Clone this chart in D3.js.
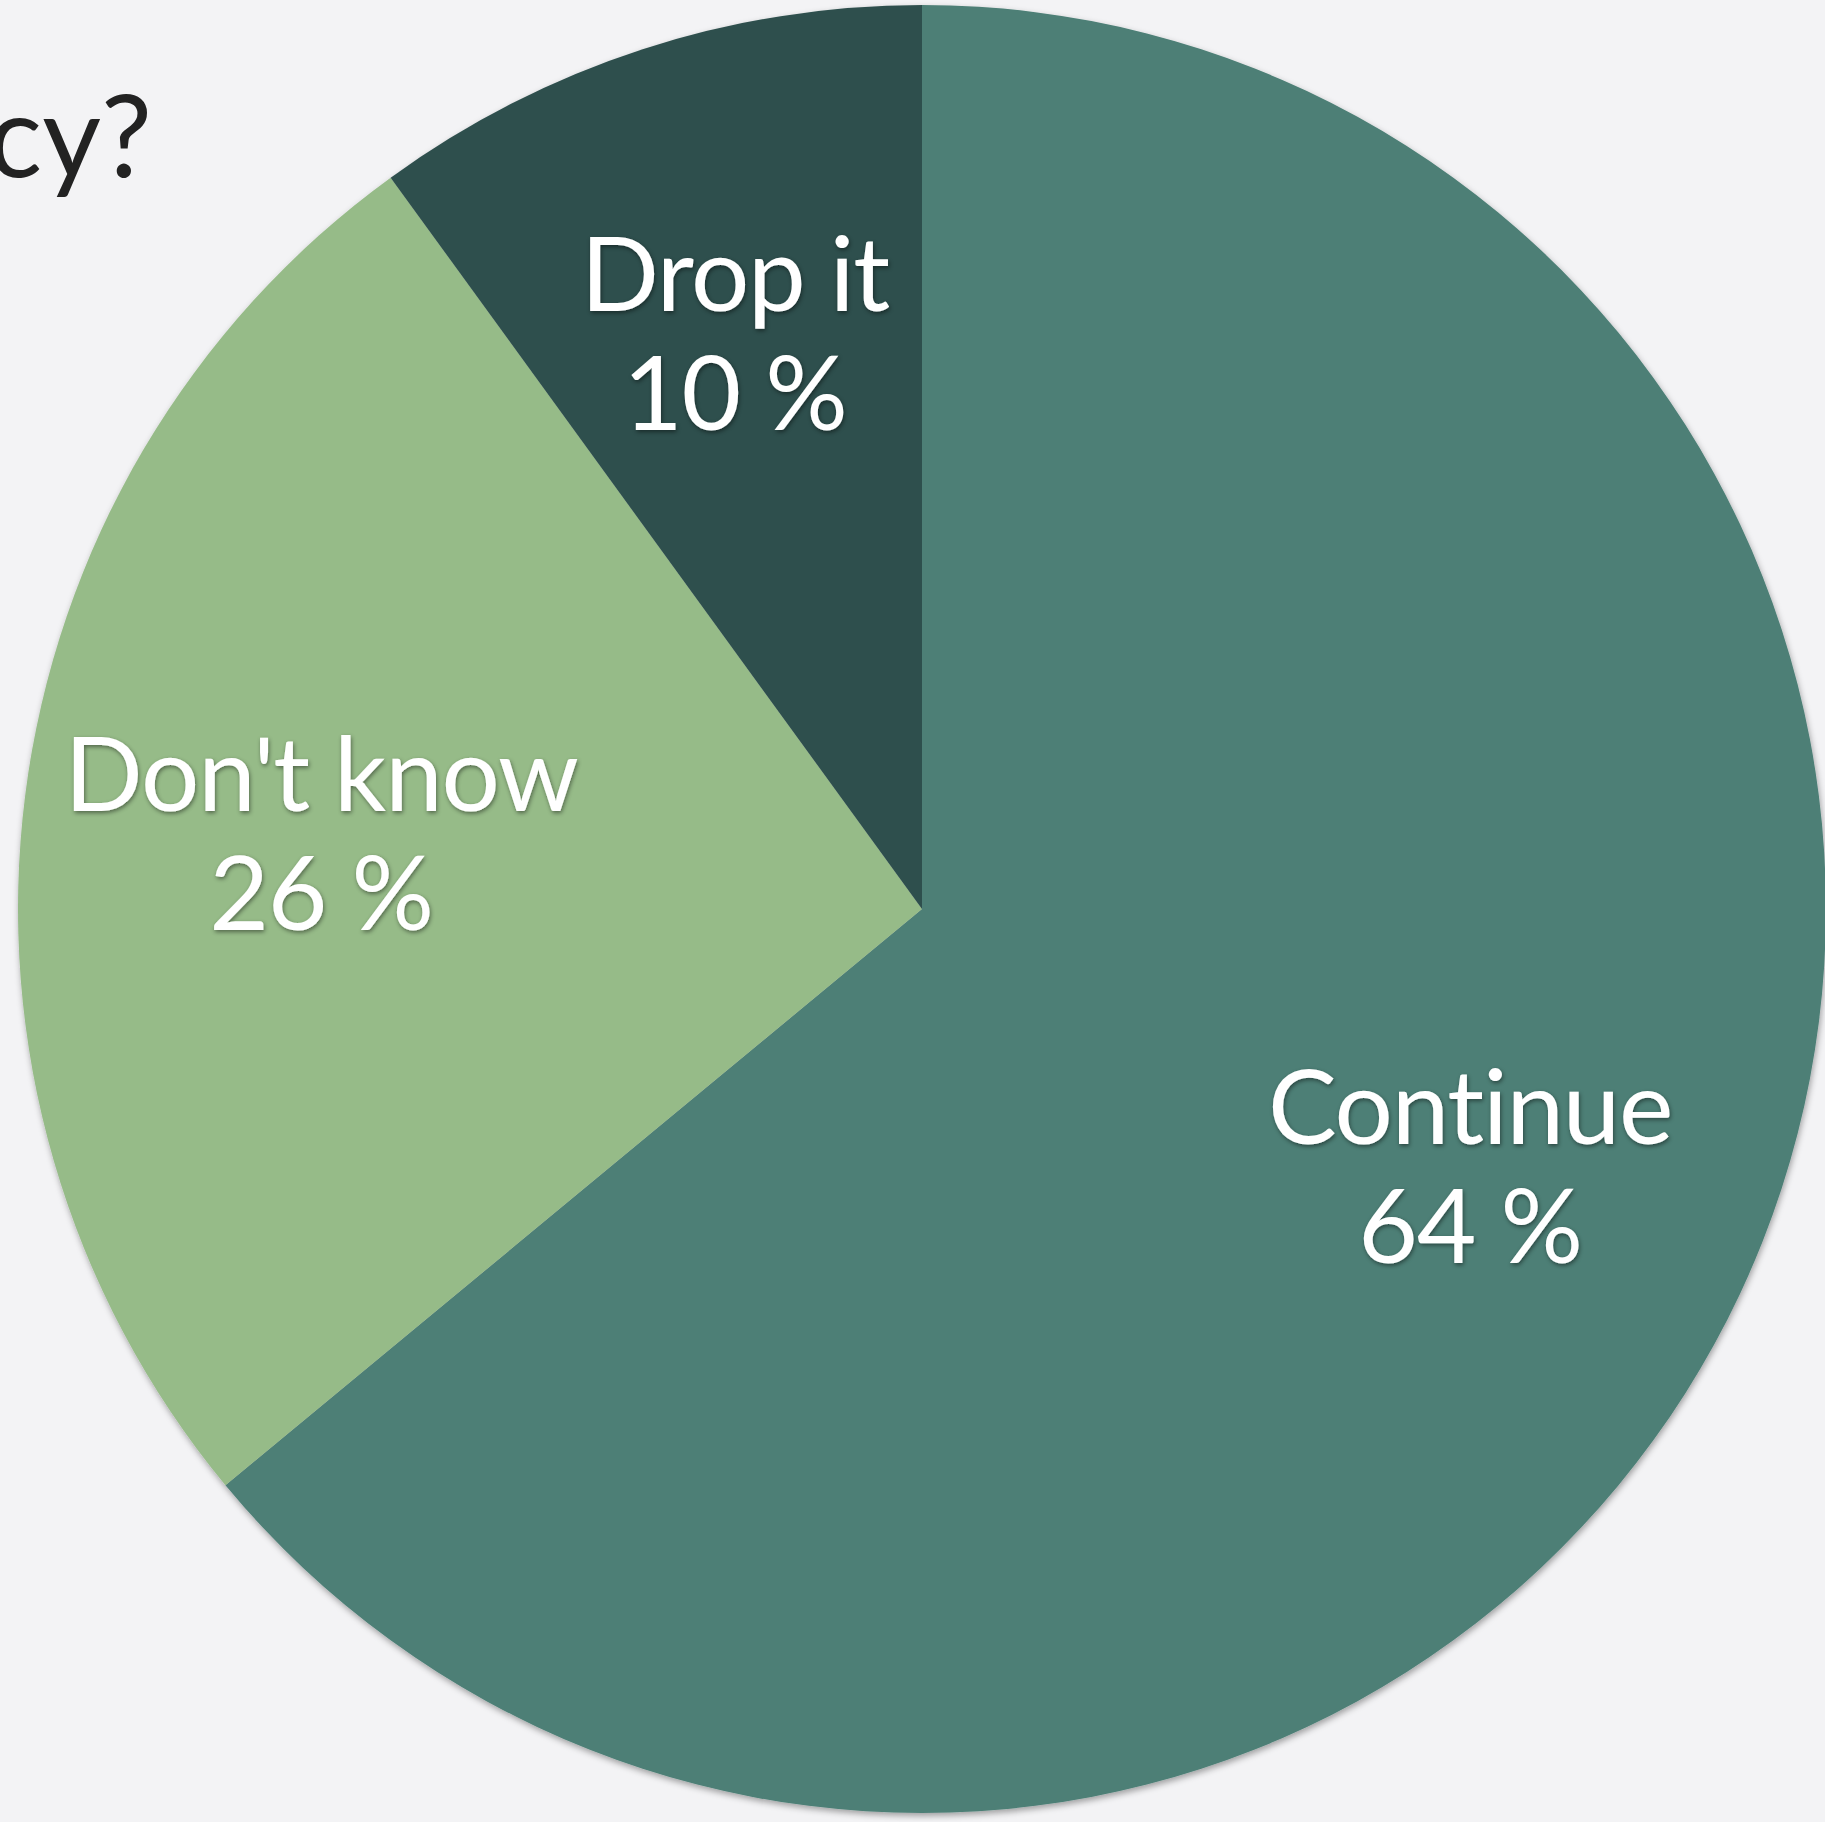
<!DOCTYPE html>
<html>
<head>
<meta charset="utf-8">
<script src="https://cdn.jsdelivr.net/npm/d3@7"></script>
<style>
  html, body { margin: 0; padding: 0; background: #f3f3f5; overflow: hidden; }
  svg { display: block; }
  text { font-variant-ligatures: none; font-feature-settings: "liga" 0; }
</style>
</head>
<body>
<svg id="chart" width="1825" height="1822"></svg>
<script>
const categories = ["Continue", "Don't know", "Drop it"];
const values = [64, 26, 10];
const colors = ["#4d7f76", "#96bb88", "#2f504e"];
const titleText = "Should we continue with the current policy?";

const W = 1825, H = 1822;
const cx = 922, cy = 909, R = 904;

const svg = d3.select("#chart");
svg.append("rect").attr("width", W).attr("height", H).attr("fill", "#f3f3f5");

const defs = svg.append("defs");
const pf = defs.append("filter").attr("id", "pieShadow")
  .attr("x", "-10%").attr("y", "-10%").attr("width", "120%").attr("height", "120%");
pf.append("feDropShadow").attr("dx", 1).attr("dy", 3).attr("stdDeviation", 3)
  .attr("flood-color", "#000").attr("flood-opacity", 0.35);
const tf = defs.append("filter").attr("id", "textShadow")
  .attr("x", "-10%").attr("y", "-20%").attr("width", "120%").attr("height", "140%");
tf.append("feDropShadow").attr("dx", 1).attr("dy", 2).attr("stdDeviation", 2)
  .attr("flood-color", "#000").attr("flood-opacity", 0.45);

// title (mostly off-canvas to the left, as in the reference)
svg.append("text")
  .attr("x", 152).attr("y", 177)
  .attr("text-anchor", "end")
  .attr("font-family", "Lato, sans-serif")
  .attr("font-weight", 400)
  .attr("font-size", 114)
  .attr("fill", "#222")
  .text(titleText);

const data = categories.map((c, i) => ({ name: c, value: values[i], color: colors[i] }));
const pie = d3.pie().value(d => d.value).sort(null);
const arcs = pie(data);
const arc = d3.arc().innerRadius(0).outerRadius(R);
const labelArc = d3.arc().innerRadius(R * 0.67).outerRadius(R * 0.67);

const g = svg.append("g").attr("transform", `translate(${cx},${cy})`);
g.append("g").attr("filter", "url(#pieShadow)")
  .selectAll("path").data(arcs).join("path")
  .attr("d", arc)
  .attr("fill", d => d.data.color);

const fs = 103, lineGap = 119, capH = fs * 0.72;
const labels = g.append("g").attr("filter", "url(#textShadow)")
  .selectAll("text").data(arcs).join("text")
  .attr("transform", d => { const [x, y] = labelArc.centroid(d); return `translate(${x},${y})`; })
  .attr("text-anchor", "middle")
  .attr("font-family", "Lato, sans-serif")
  .attr("font-size", fs)
  .attr("letter-spacing", -1.2)
  .attr("fill", "#fff");
const firstBase = -(capH + lineGap) / 2 + capH;
labels.append("tspan").attr("x", 0).attr("y", firstBase).text(d => d.data.name);
labels.append("tspan").attr("x", 0).attr("y", firstBase + lineGap).text(d => d.data.value + " %");
</script>
</body>
</html>
